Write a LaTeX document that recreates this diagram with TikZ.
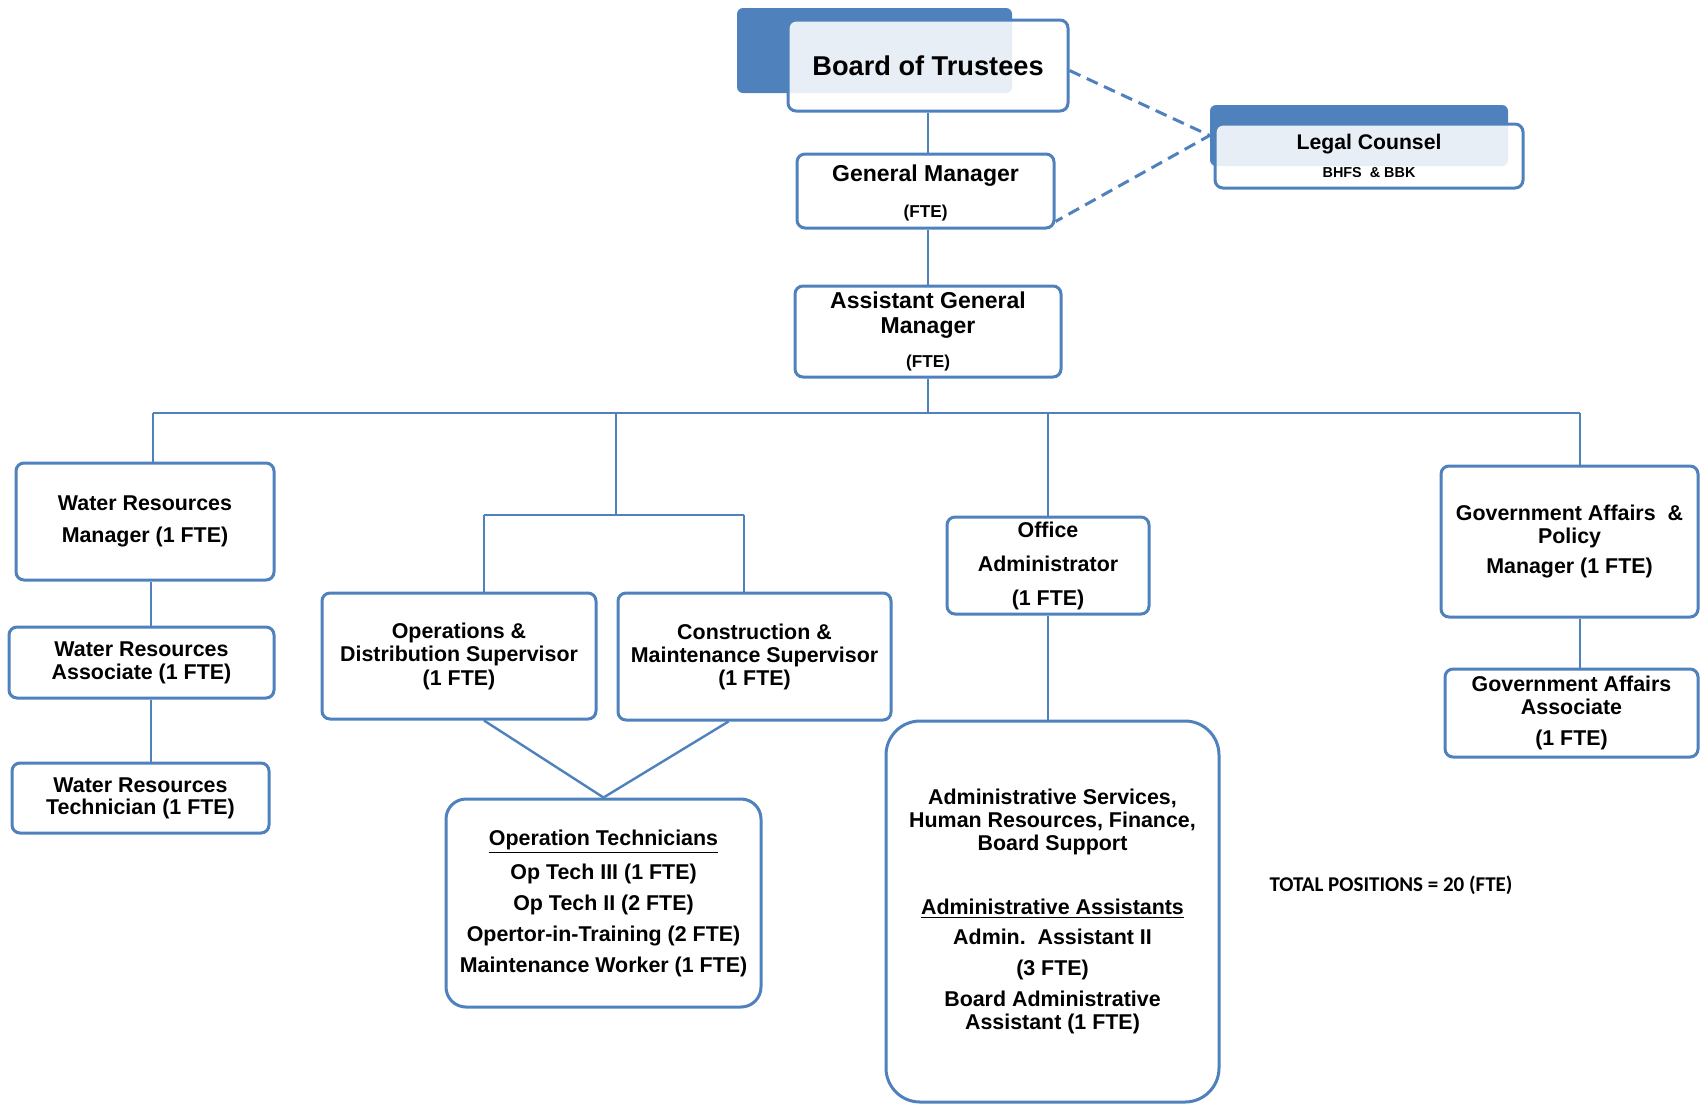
\documentclass[tikz,border=0pt]{standalone}
\usepackage{fontspec}
\setmainfont{Liberation Sans}
\newfontfamily\calfont{Carlito}
\usetikzlibrary{calc}
\definecolor{orgblue}{HTML}{4F81BD}
\tikzset{
  post/.style={draw=orgblue, line width=1.5pt, rounded corners=4pt, fill=white,
    align=center, inner sep=0pt, font=\bfseries\fontsize{10.7}{11.5}\selectfont},
  front/.style={fill opacity=0.87, text opacity=1},
  tab/.style={fill=orgblue, rounded corners=3pt, inner sep=0pt},
  legal/.style={draw=orgblue, line width=1.5pt, dash pattern=on 6pt off 3.5pt},
}
\begin{document}
\begin{tikzpicture}[x=0.5pt, y=-0.5pt]
  \useasboundingbox (0,0) rectangle (1700,1105);
  \draw
    (874.5,50.5) node[tab, minimum width=137.5pt, minimum height=42.5pt] (bottab){}
    (1359,135.5) node[tab, minimum width=149pt, minimum height=30.5pt] (lctab){}
    (928,65.5) node[post, front, minimum width=140pt, minimum height=45.5pt,
      font=\bfseries\fontsize{13.6}{16}\selectfont] (bot){Board of Trustees}
    (1369,156) node[post, front, minimum width=154pt, minimum height=32pt,
      font=\bfseries\fontsize{10.6}{12}\selectfont] (lc){Legal Counsel\\[2pt]{\fontsize{7.2}{9}\selectfont BHFS \ \& BBK}}
    (925.5,191) node[post, minimum width=128.5pt, minimum height=37pt,
      font=\bfseries\fontsize{11.5}{13}\selectfont, text depth=-1pt] (gm){General Manager\\[5pt]{\fontsize{8.6}{10}\selectfont (FTE)}}
    (928,331.5) node[post, minimum width=133pt, minimum height=45.5pt,
      font=\bfseries\fontsize{11.5}{13}\selectfont] (agm){Assistant General\\[-0.5pt]Manager\\[4pt]{\fontsize{8.6}{10}\selectfont (FTE)}}
    (145,521.5) node[post, minimum width=129pt, minimum height=58.5pt] (wrm){Water Resources\\[4.5pt]Manager (1 FTE)}
    (141.5,662.5) node[post, minimum width=132.5pt, minimum height=35.5pt] (wra){Water Resources\\Associate (1 FTE)}
    (140.5,798) node[post, minimum width=128.5pt, minimum height=35pt] (wrt){Water Resources\\[-0.5pt]Technician (1 FTE)}
    (459,656) node[post, minimum width=137pt, minimum height=63pt] (ods){Operations \&\\Distribution Supervisor\\[0.5pt](1 FTE)}
    (754.5,656.5) node[post, minimum width=136.5pt, minimum height=63.5pt] (cms){Construction \&\\Maintenance Supervisor\\(1 FTE)}
    (603.5,903) node[post, rounded corners=10pt, minimum width=157.5pt, minimum height=104pt] (ot){\underline{Operation Technicians}\\[4pt]Op Tech III (1 FTE)\\[4pt]Op Tech II (2 FTE)\\[4pt]Opertor-in-Training (2 FTE)\\[4pt]Maintenance Worker (1 FTE)}
    (1048,565.5) node[post, minimum width=101pt, minimum height=48.5pt] (oa){Office\\[5.5pt]Administrator\\[5.5pt](1 FTE)}
    (1052.5,911.5) node[post, rounded corners=17pt, minimum width=166.5pt, minimum height=190.5pt] (adm){Administrative Services,\\Human Resources, Finance,\\Board Support\\[20.5pt]\underline{Administrative Assistants}\\[3.5pt]Admin.~~Assistant II\\[4pt](3 FTE)\\[4pt]Board Administrative\\Assistant (1 FTE)}
    (1569.5,541.5) node[post, minimum width=128.5pt, minimum height=75.5pt] (gap){Government Affairs~~\&\\Policy\\[3.5pt]Manager (1 FTE)}
    (1571.5,713) node[post, minimum width=126.5pt, minimum height=44pt] (gaa){Government Affairs\\Associate\\[4pt](1 FTE)}
    (1391,885) node[font=\calfont\bfseries\fontsize{10.5}{12}\selectfont] (total){TOTAL POSITIONS = 20 (FTE)};
  \coordinate (wrdrop) at (153,413);
  \coordinate (gadrop) at (1580,413);
  \coordinate (opsj) at (616,515);
  \coordinate (opsl) at (484,515);
  \coordinate (opsr) at (744,515);
  \coordinate (wrx) at (151,0);
  \begin{scope}[draw=orgblue, line width=1.2pt]
    \draw (bot.south) to (bot.south |- gm.north);
    \draw (agm.north |- gm.south) to (agm.north);
    \draw (agm.south) to (agm.south |- wrdrop);
    \draw (wrdrop) to (gadrop);
    \draw (wrdrop) to (wrdrop |- wrm.north);
    \draw (gadrop) to (gadrop |- gap.north);
    \draw (opsj |- wrdrop) to (opsj);
    \draw (opsl) to (opsr);
    \draw (opsl) to (opsl |- ods.north);
    \draw (opsr) to (opsr |- cms.north);
    \draw (oa.north |- wrdrop) to (oa.north);
    \draw (wrm.south -| wrx) to (wra.north -| wrx);
    \draw (wra.south -| wrx) to (wrt.north -| wrx);
    \draw (ods.south -| opsl) to (ot.north);
    \draw ($(cms.south)+(-26,0)$) to (ot.north);
    \draw (oa.south) to (oa.south |- adm.north);
    \draw (gap.south -| gadrop) to (gaa.north -| gadrop);
  \end{scope}
  \draw[legal] ([yshift=-2.5pt]bot.east) -- (lctab.west) -- ([yshift=4pt]gm.south east);
\end{tikzpicture}
\end{document}
